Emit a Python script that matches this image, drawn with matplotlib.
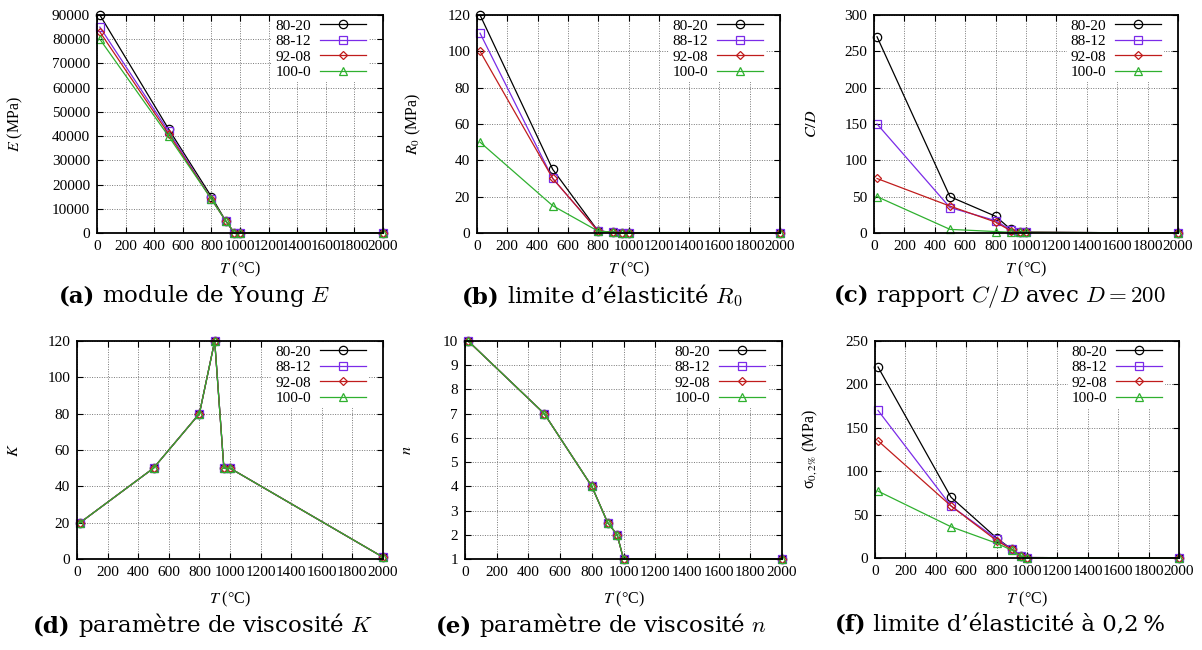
import matplotlib
matplotlib.use('Agg')
import matplotlib.pyplot as plt
from matplotlib.offsetbox import TextArea, HPacker, AnnotationBbox

# temperatures (°C)
T = [20, 500, 800, 900, 960, 1000, 2000]
series = ['80-20', '88-12', '92-08', '100-0']

# (a) Young modulus E (MPa)
E_8020 = [90000, 43000, 15000, 5000, 100, 100, 100]
E_8812 = [85000, 42000, 14000, 5000, 100, 100, 100]
E_9208 = [83000, 41000, 14000, 5000, 100, 100, 100]
E_1000 = [80000, 40000, 14000, 5000, 100, 100, 100]

# (b) yield stress R0 (MPa)
R0_8020 = [120, 35, 1, 0.5, 0.1, 0.1, 0.1]
R0_8812 = [110, 30, 1, 0.5, 0.1, 0.1, 0.1]
R0_9208 = [100, 30, 1, 0.5, 0.1, 0.1, 0.1]
R0_1000 = [50, 15, 1, 0.5, 0.1, 0.1, 0.1]

# (c) C/D
CD_8020 = [270, 50, 23, 5, 2, 1, 0]
CD_8812 = [150, 35, 17, 4, 1, 1, 0]
CD_9208 = [75, 37, 15, 3, 1, 1, 0]
CD_1000 = [50, 5, 2, 1, 1, 1, 0]

# (d) viscosity K (same for all)
K_all = [20, 50, 80, 120, 50, 50, 1]

# (e) viscosity n (same for all)
n_all = [10, 7, 4, 2.5, 2, 1, 1]

# (f) sigma 0.2% (MPa)
S_8020 = [220, 70, 23, 10, 2, 0.5, 0]
S_8812 = [170, 60, 22, 10, 2, 0.5, 0]
S_9208 = [135, 60, 20, 10, 2, 0.5, 0]
S_1000 = [77, 36, 17, 9, 2, 0.5, 0]

colors = ['black', '#7b2be8', '#c01c1c', '#2fb02f']
markers = ['o', 's', 'D', '^']
msizes = [6, 6, 4.5, 6]

W, H = 1202, 650
fig = plt.figure(figsize=(W / 100, H / 100), dpi=100)

tickfont = 'Liberation Serif'
fs = 11


def make_axes(l, r, t, b):
    return fig.add_axes([l / W, 1 - b / H, (r - l) / W, (b - t) / H])


def panel(box, data, ymax, ystep, ylabel, ylab_x, xlab_top, ymin=0):
    l, r, t, b = box
    ax = make_axes(l, r, t, b)
    for i, ys in enumerate(data):
        ax.plot(T, ys, color=colors[i], lw=0.9, marker=markers[i], ms=msizes[i],
                mfc='none', mew=0.9, label=series[i], clip_on=False)
    ax.set_xlim(0, 2000)
    ax.set_ylim(ymin, ymax)
    ax.set_xticks(range(0, 2001, 200))
    yt = []
    v = ymin
    while v <= ymax + 1e-9:
        yt.append(v)
        v += ystep
    ax.set_yticks(yt)
    ax.grid(True, color='#777777', linestyle=(0, (1, 1.5)), lw=0.7)
    ax.tick_params(direction='in', top=True, right=True, length=4, width=0.8,
                   labelsize=fs, pad=5)
    for lab in ax.get_xticklabels() + ax.get_yticklabels():
        lab.set_family(tickfont)
    for s in ax.spines.values():
        s.set_linewidth(1.3)
    ax.set_xlabel('$T$ (°C)', family=tickfont, fontsize=fs + 0.5, math_fontfamily='stix')
    ax.xaxis.set_label_coords(0.5, -(xlab_top - b) / (b - t))
    ax.set_ylabel(ylabel, family=tickfont, fontsize=fs + 0.5, math_fontfamily='stix')
    ax.yaxis.set_label_coords((ylab_x - l) / (r - l), 0.5)
    leg = ax.legend(loc='upper right', bbox_to_anchor=(1 - 14 / (r - l), 1 - 1 / (b - t)),
                    markerfirst=False, handlelength=3.0, handletextpad=0.6,
                    labelspacing=0.12, borderpad=0.2, borderaxespad=0,
                    prop={'family': tickfont, 'size': fs}, fancybox=False)
    leg.get_frame().set_facecolor('white')
    leg.get_frame().set_edgecolor('none')
    leg.get_frame().set_alpha(1)
    return ax


panel((97, 383, 15, 233), [E_8020, E_8812, E_9208, E_1000], 90000, 10000,
      '$E$ (MPa)', 25, 260)
panel((477, 780, 15, 233), [R0_8020, R0_8812, R0_9208, R0_1000], 120, 20,
      '$R_0$ (MPa)', 423, 260)
panel((874, 1178, 15, 233), [CD_8020, CD_8812, CD_9208, CD_1000], 300, 50,
      '$C/D$', 820, 260)
panel((77, 383, 341, 559), [K_all] * 4, 120, 20, '$K$', 22, 590)
panel((465, 782, 341, 559), [n_all] * 4, 10, 1, '$n$', 415, 590, ymin=1)
panel((875, 1179, 341, 558), [S_8020, S_8812, S_9208, S_1000], 250, 50,
      'σ$_{0,2\\%}$ (MPa)', 820, 590)

cap_fs = 16.5
captions = [
    (195, 296, '(a)', ' module de Young $E$'),
    (602, 296, '(b)', ' limite d’élasticité $R_0$'),
    (1000, 296, '(c)', ' rapport $C/D$ avec $D = 200$'),
    (203, 625, '(d)', ' paramètre de viscosité $K$'),
    (601, 625, '(e)', ' paramètre de viscosité $n$'),
    (1000, 625, '(f)', ' limite d’élasticité à 0,2\u2009%'),
]
for x, y, tag, s in captions:
    ta = TextArea(tag, textprops=dict(fontsize=cap_fs, family='DejaVu Serif',
                                      weight='bold'))
    tb = TextArea(s, textprops=dict(fontsize=cap_fs, family='DejaVu Serif',
                                    math_fontfamily='cm'))
    box = HPacker(children=[ta, tb], align='baseline', pad=0, sep=0)
    ab = AnnotationBbox(box, (x / W, 1 - y / H), xycoords='figure fraction',
                        frameon=False, box_alignment=(0.5, 0.5), pad=0)
    fig.add_artist(ab)

fig.savefig('out.png', dpi=100)
